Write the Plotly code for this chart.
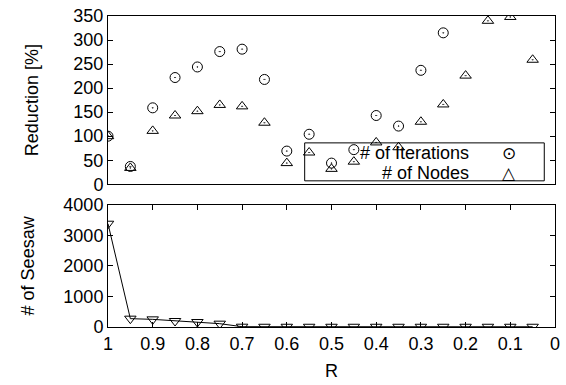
import plotly.graph_objects as go

R = [1.0, 0.95, 0.9, 0.85, 0.8, 0.75, 0.7, 0.65, 0.6, 0.55,
     0.5, 0.45, 0.4, 0.35, 0.3, 0.25, 0.2, 0.15, 0.1, 0.05]
iterations = [100, 37, 159, 222, 244, 276, 281, 218, 69, 104,
              44, 72, 143, 121, 237, 315, None, None, None, None]
nodes = [100, 34, 111, 143, 152, 165, 162, 128, 44, 66,
         32, 47, 87, 77, 130, 166, 226, 340, 348, 259]
seesaw = [3380, 273, 250, 196, 163, 109, 10, 8, 8, 8,
          8, 8, 8, 8, 8, 8, 8, 8, 8, 8]

x_ticks = [1, 0.9, 0.8, 0.7, 0.6, 0.5, 0.4, 0.3, 0.2, 0.1, 0]
top_y_ticks = [0, 50, 100, 150, 200, 250, 300, 350]
bot_y_ticks = [0, 1000, 2000, 3000, 4000]

FONT = "Liberation Sans, Arial, Helvetica, sans-serif"
fig = go.Figure()

mk = dict(color="black", size=10, line=dict(color="black", width=1))
fig.add_trace(go.Scatter(x=R, y=iterations, mode="markers", name="# of Iterations",
                         marker=dict(symbol="circle-open-dot", **mk),
                         xaxis="x", yaxis="y", showlegend=False))
fig.add_trace(go.Scatter(x=R, y=nodes, mode="markers", name="# of Nodes",
                         marker=dict(symbol="triangle-up-open-dot", **mk),
                         xaxis="x", yaxis="y", showlegend=False))
fig.add_trace(go.Scatter(x=R, y=seesaw, mode="lines+markers", name="# of Seesaw",
                         line=dict(color="black", width=1),
                         marker=dict(symbol="triangle-down-open", **mk),
                         xaxis="x2", yaxis="y2", showlegend=False))

axcommon = dict(showline=True, linecolor="black", linewidth=1, mirror="ticks",
                ticks="inside", ticklen=5, tickcolor="black", showgrid=False,
                zeroline=False, tickfont=dict(family=FONT, size=18, color="black"))

fig.update_layout(
    width=566, height=385,
    margin=dict(l=108, r=6, t=14, b=58),
    paper_bgcolor="white", plot_bgcolor="white",
    font=dict(family=FONT, size=18, color="black"),
    xaxis=dict(range=[1, 0], domain=[0, 1], anchor="y", showticklabels=False,
               showline=True, linecolor="black", linewidth=1, mirror=True,
               ticks="", showgrid=False, zeroline=False),
    yaxis=dict(range=[0, 350], domain=[0.459, 1.0], anchor="x",
               tickvals=top_y_ticks,
               title=dict(text="Reduction [%]", font=dict(family=FONT, size=18), standoff=30),
               **axcommon),
    xaxis2=dict(range=[1, 0], domain=[0, 1], anchor="y2", tickvals=x_ticks,
                title=dict(text="R", font=dict(family=FONT, size=18), standoff=11),
                **axcommon),
    yaxis2=dict(range=[0, 4000], domain=[0, 0.393], anchor="x2",
                tickvals=bot_y_ticks,
                title=dict(text="# of Seesaw", font=dict(family=FONT, size=18), standoff=24),
                **axcommon),
)

# legend box (gnuplot style: text then symbol)
fig.add_shape(type="rect", xref="paper", yref="paper", x0=0.440, x1=0.976,
              y0=0.470, y1=0.592, line=dict(color="black", width=1), fillcolor="rgba(0,0,0,0)")
legend_items = [("# of Iterations", "⊙", 0.560), ("# of Nodes", "△", 0.496)]
for txt, sym, yy in legend_items:
    fig.add_annotation(x=0.812, y=yy, xref="paper", yref="paper", text=txt,
                       showarrow=False, xanchor="right", yanchor="middle",
                       font=dict(family=FONT, size=18, color="black"))
    fig.add_annotation(x=0.896, y=yy, xref="paper", yref="paper", text=sym,
                       showarrow=False, xanchor="center", yanchor="middle",
                       font=dict(family="DejaVu Sans", size=17, color="black"))

fig.write_html("out.html")
